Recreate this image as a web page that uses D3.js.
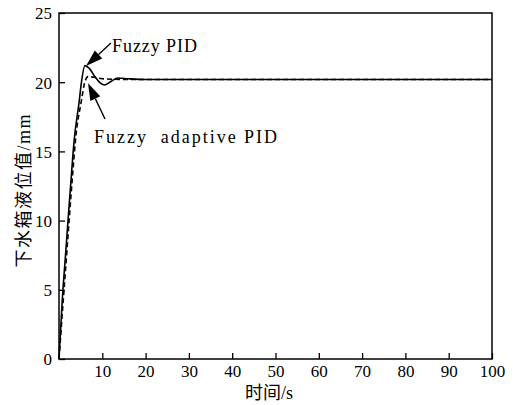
<!DOCTYPE html>
<html>
<head>
<meta charset="utf-8">
<script src="https://cdn.jsdelivr.net/npm/d3@7/dist/d3.min.js"></script>
<style>
    html, body { margin: 0; padding: 0; background: #fff; }
    svg { display: block; }
    svg text { font-family: "Liberation Serif", "Times New Roman", "Noto Sans CJK SC", serif; fill: #000; }
</style>
</head>
<body>
<div id="chart"></div>
<script>
// 模糊PID 响应曲线
var pidTime = [0, 0.76, 1.6, 1.9, 3.2, 3.5, 4.7, 5.1, 6.0, 7.0, 8.3, 9.5, 10.6, 12, 13.6, 16, 20, 100];
var pidLevel = [0, 4.3, 7.9, 9.2, 14.7, 15.8, 18.7, 19.8, 21.2, 21.0, 20.4, 19.95, 19.8, 20.05, 20.3, 20.25, 20.2, 20.2];

// 模糊自适应PID 响应曲线
var adaptTime = [0, 1.0, 1.85, 2.15, 3.5, 3.8, 5.2, 5.8, 6.7, 8.3, 10, 15, 100];
var adaptLevel = [0, 4.3, 7.9, 9.2, 14.7, 15.8, 18.7, 19.8, 20.4, 20.35, 20.25, 20.2, 20.2];

// 刻度
var xTicks = [10, 20, 30, 40, 50, 60, 70, 80, 90, 100];
var yTicks = [0, 5, 10, 15, 20, 25];

(function (d3) {
    "use strict";
    var W = 514, H = 405;
    var margin = {top: 13, right: 22, bottom: 46, left: 59};
    var w = W - margin.left - margin.right,
        h = H - margin.top - margin.bottom;

    var svg = d3.select("#chart").append("svg").attr("width", W).attr("height", H);
    var g = svg.append("g").attr("transform", "translate(" + margin.left + "," + margin.top + ")");

    var x = d3.scaleLinear().domain([0, 100]).range([0, w]);
    var y = d3.scaleLinear().domain([0, 25]).range([h, 0]);

    // 坐标轴 (刻度朝内)
    var xAxis = d3.axisBottom(x).tickValues(xTicks).tickSize(-6).tickPadding(6);
    var yAxis = d3.axisLeft(y).tickValues(yTicks).tickSize(-6).tickPadding(7);

    var gx = g.append("g").attr("transform", "translate(0," + h + ")").call(xAxis);
    var gy = g.append("g").call(yAxis);
    [gx, gy].forEach(function (ax) {
        ax.attr("font-family", null).attr("font-size", null);
        ax.select(".domain").remove();
        ax.selectAll(".tick line").attr("stroke", "#000").attr("stroke-width", 1.3);
        ax.selectAll(".tick text").style("font-size", "17px");
    });
    gx.selectAll(".tick text").attr("dy", "0.71em");
    gy.selectAll(".tick text").attr("dy", "0.35em");

    // 边框
    g.append("rect").attr("x", 0).attr("y", 0).attr("width", w).attr("height", h)
        .attr("fill", "none").attr("stroke", "#000").attr("stroke-width", 1.5);

    var line = d3.line()
        .x(function (d) { return x(d[0]); })
        .y(function (d) { return y(d[1]); })
        .curve(d3.curveMonotoneX);

    var pidData = pidTime.map(function (t, i) { return [t, pidLevel[i]]; });
    var adaptData = adaptTime.map(function (t, i) { return [t, adaptLevel[i]]; });

    g.append("path").datum(pidData).attr("d", line)
        .attr("fill", "none").attr("stroke", "#000").attr("stroke-width", 1.6);
    g.append("path").datum(adaptData).attr("d", line)
        .attr("fill", "none").attr("stroke", "#000").attr("stroke-width", 1.6)
        .attr("stroke-dasharray", "5,3");

    // 标注箭头
    var notes = [
        {text: "Fuzzy PID", size: 18, len: 85, tx: 12.24, ty: 22.2, from: [12.0, 22.83], to: [6.24, 21.17]},
        {text: "Fuzzy  adaptive PID", size: 18, len: 183, tx: 8.1, ty: 15.6, from: [10.62, 17.34], to: [6.7, 19.92]}
    ];
    notes.forEach(function (n) {
        var x1 = x(n.from[0]), y1 = y(n.from[1]),
            x2 = x(n.to[0]), y2 = y(n.to[1]);
        var ang = Math.atan2(y2 - y1, x2 - x1),
            len = 17, half = 5.5;
        var bx = x2 - len * Math.cos(ang), by = y2 - len * Math.sin(ang);
        g.append("line").attr("x1", x1).attr("y1", y1).attr("x2", bx).attr("y2", by)
            .attr("stroke", "#000").attr("stroke-width", 1.4);
        g.append("path")
            .attr("d", "M" + x2 + "," + y2 +
                "L" + (bx + half * Math.sin(ang)) + "," + (by - half * Math.cos(ang)) +
                "L" + (bx - half * Math.sin(ang)) + "," + (by + half * Math.cos(ang)) + "Z")
            .attr("fill", "#000");
        g.append("text").attr("x", x(n.tx)).attr("y", y(n.ty))
            .attr("textLength", n.len).attr("lengthAdjust", "spacing")
            .style("font-size", n.size + "px").style("white-space", "pre")
            .text(n.text);
    });

    // 轴标题
    svg.append("text").attr("x", 269).attr("y", 399).attr("text-anchor", "middle")
        .style("font-size", "18px").text("时间/s");
    svg.append("text").attr("transform", "translate(30,191) rotate(-90)")
        .attr("text-anchor", "middle").attr("textLength", 153).attr("lengthAdjust", "spacing")
        .style("font-size", "18px").text("下水箱液位值/mm");
})(d3);
</script>
</body>
</html>
